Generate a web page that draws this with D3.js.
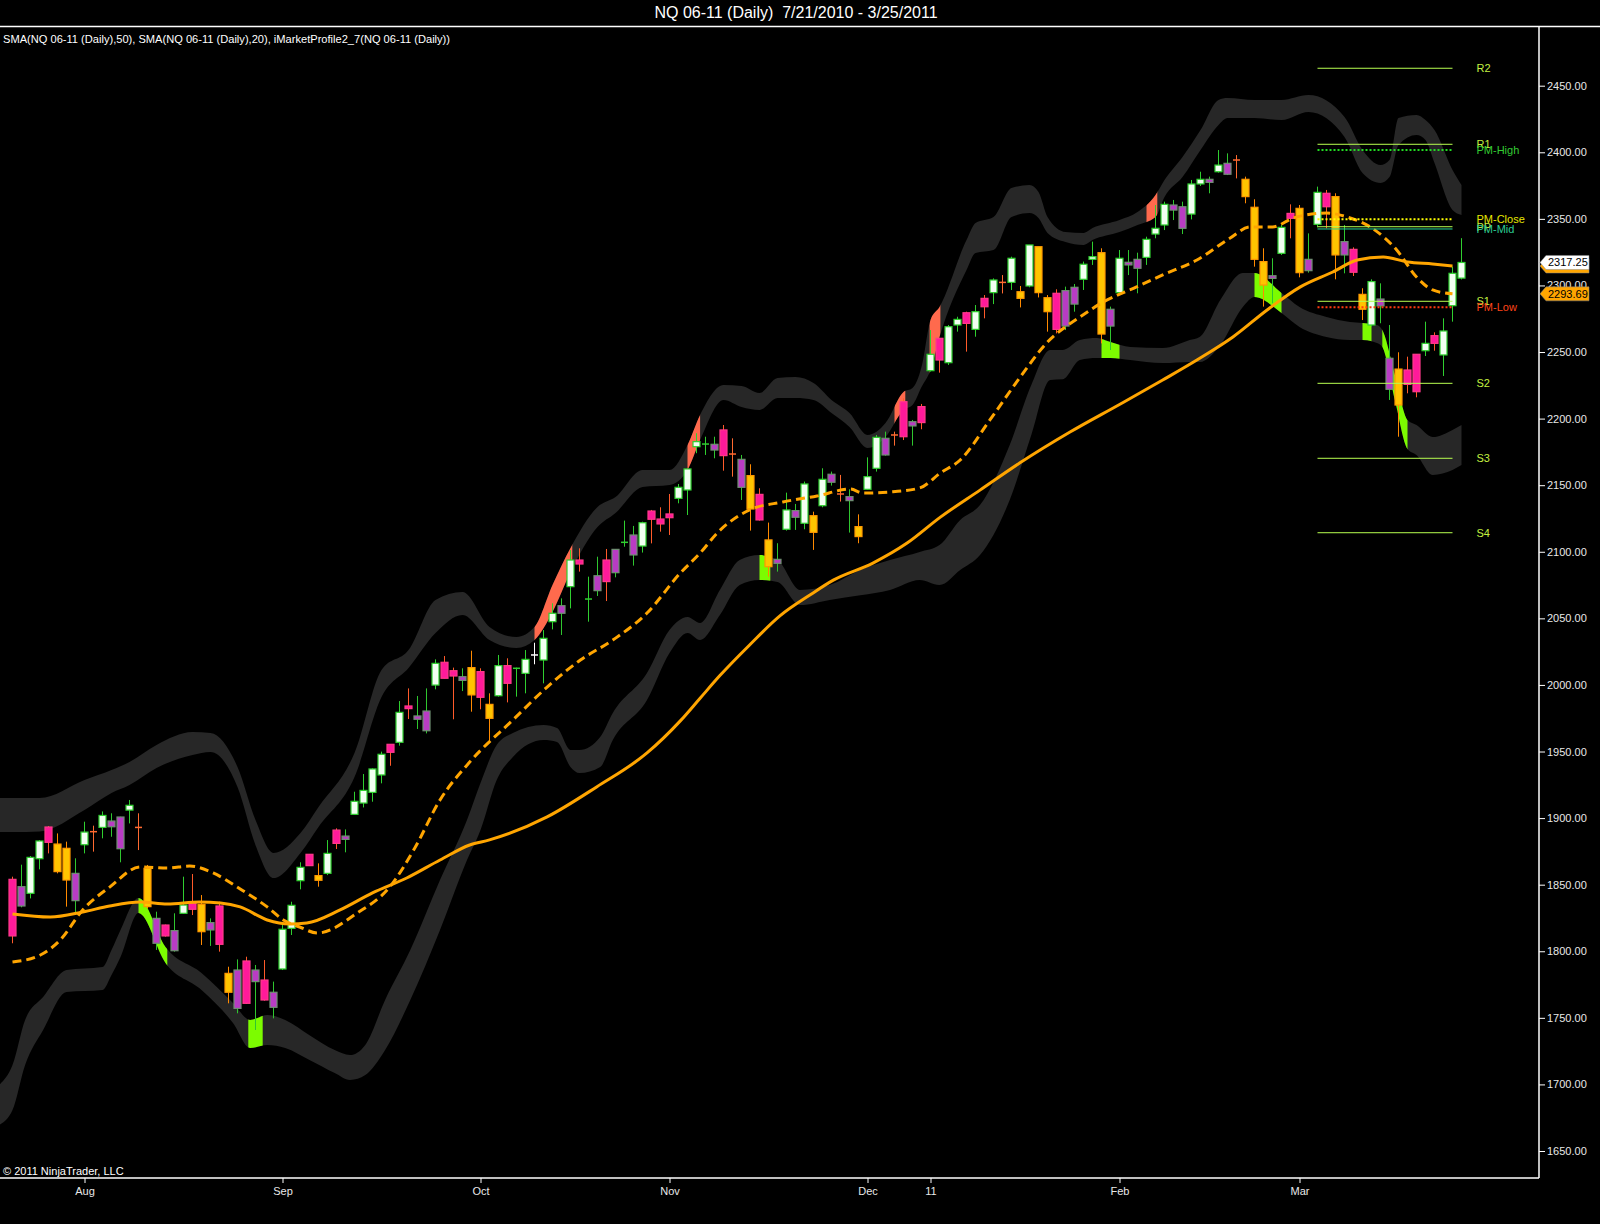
<!DOCTYPE html>
<html><head><meta charset="utf-8">
<script src="https://cdn.jsdelivr.net/npm/d3@7"></script>
<style>
body{margin:0;background:#000;}
svg{display:block;}
text{font-family:"Liberation Sans",Arial,sans-serif;}
</style>
</head><body>
<svg id="c" width="1600" height="1224"></svg>
<script>
// ---------------- DATA ----------------
const title = "NQ 06-11 (Daily)  7/21/2010 - 3/25/2011";
const legendText = "SMA(NQ 06-11 (Daily),50), SMA(NQ 06-11 (Daily),20), iMarketProfile2_7(NQ 06-11 (Daily))";
const copyright = "\u00A9 2011 NinjaTrader, LLC";

const monthIdx = [8, 30, 52, 73, 95, 102, 123, 143];
const monthLabels = ["Aug", "Sep", "Oct", "Nov", "Dec", "11", "Feb", "Mar"];
const priceTicks = d3.range(1650, 2451, 50);

// [open, high, low, close]
const bars = [
[1854,1856,1806,1811.5],[1848.5,1865,1833,1834],[1843.5,1871.5,1839.7,1870.5],[1869.5,1883.5,1861.5,1882.8],
[1893.3,1894,1873.5,1881.8],[1880.5,1888.5,1858.5,1859.8],[1877.3,1882.3,1833.5,1853.5],[1858.5,1869.8,1828.5,1838],
[1880,1897.3,1873.5,1889.5],[1889.8,1894.3,1874.8,1889.8],[1893,1905,1884.8,1902],[1897.8,1903.6,1886,1893.5],
[1900.8,1901,1866.8,1877],[1906,1913.6,1896,1909.6],[1893,1903.6,1876,1893],[1862.3,1864.8,1832,1833.5],
[1824.7,1829.7,1801,1806],[1819.7,1820,1811,1811.5],[1815.5,1828.5,1799.7,1800.4],[1828.5,1856,1828,1834.7],
[1836,1858,1827.2,1831.5],[1835.2,1842.2,1804.7,1814.7],[1821.5,1824.7,1804,1816],[1834,1837.2,1799.7,1805.2],
[1783.4,1788.4,1760.9,1769.2],[1785.9,1793.9,1753.4,1757.1],[1792.7,1795.9,1760.4,1760.9],[1785.9,1789.7,1740.9,1777.2],
[1778.4,1793.4,1762.9,1763.4],[1769.2,1777.2,1749.6,1757.9],[1786.7,1819.7,1785.9,1816.5],[1817.2,1837.2,1812.2,1834.5],
[1853,1866.8,1846.5,1863],[1872.8,1873,1864,1864.3],[1856.8,1866,1848.5,1853.3],[1858.5,1883.5,1857.2,1873.5],
[1891,1892.3,1876.8,1881],[1886.5,1891.5,1874.3,1884],[1902.8,1919.8,1902.8,1912.6],[1911.3,1933.1,1908,1920.8],
[1919.3,1937.4,1912.3,1936.9],[1932.4,1949.9,1926.1,1947.9],[1955.4,1955.4,1939.3,1949.4],[1956.9,1987.9,1954.4,1979.4],
[1984.2,1997.4,1974.4,1982.2],[1976.7,1991.7,1966.9,1974.2],[1980.4,1997.4,1963.6,1965.6],[1999.9,2019.2,1996.7,2016.2],
[2017,2021.7,2004.9,2005],[2010.7,2013,1974.2,2006.7],[2006.2,2012.5,1995.4,2003.4],[2013,2025.7,1979.9,1992.5],
[2010,2012.5,1981.7,1990.7],[1985.4,1993.7,1957.4,1974.9],[1991.9,2022.5,1991.2,2014.5],[2014.5,2020,1986.9,2001.2],
[2012.5,2013,1991.2,2012.5],[2008.7,2026.2,1993.7,2019.2],[2022.5,2031.7,2015.5,2022.5],[2018.7,2041.2,2001.2,2035],
[2047.5,2061.3,2041.7,2053.8],[2059.5,2065,2037.5,2053.8],[2073.8,2101.3,2057.5,2093.8],[2093.8,2102.6,2085.1,2090.8],
[2064.5,2081.3,2047.5,2064.5],[2082,2096.3,2066.8,2070.8],[2093.8,2102.1,2063,2077.6],[2101.8,2102,2080.8,2084.3],
[2107.1,2123.4,2103.8,2107.1],[2112.6,2119.4,2089.6,2097.6],[2104.3,2122.6,2099.4,2121.8],[2130.6,2131.4,2106.3,2124.4],
[2124.6,2133.4,2115.1,2120.9],[2128.4,2143.4,2112.6,2125.6],[2140.1,2150.9,2136.4,2148.4],[2146.4,2162.2,2127.6,2162.2],
[2178.9,2189,2174,2182.7],[2180.9,2186.4,2172.7,2180.9],[2180.7,2186.4,2170.2,2176.4],[2191.5,2195.2,2160.9,2172.2],
[2173.4,2185.2,2156.4,2173.4],[2169.4,2172.7,2138.9,2148.4],[2157.2,2165.7,2115.9,2132.1],[2143.1,2147.7,2123.4,2123.9],
[2108.9,2121.9,2081.3,2088.8],[2094.3,2106.4,2085.1,2091.3],[2116.9,2144.4,2115.9,2131.4],[2130.9,2135.9,2116.4,2125.9],
[2121.4,2152.7,2116.9,2150.9],[2127.1,2130.1,2101.4,2114.6],[2134.6,2162.7,2133.4,2154.4],[2158.2,2160.2,2149.7,2152.2],
[2143.4,2157.7,2137.7,2143.4],[2141.4,2146.9,2114.4,2138.4],[2118.9,2128.1,2106.4,2111.4],[2146.9,2170.9,2146.4,2156.4],
[2162.7,2187.7,2160.2,2185.9],[2185.2,2190.2,2172.2,2172.7],[2187.7,2190.2,2179.7,2187.7],[2212.7,2215.2,2183.9,2186.4],
[2197.7,2199,2179.7,2194.5],[2209,2211,2192,2197],[2236,2266.5,2235.3,2248.3],[2260.3,2260.3,2234.5,2244],
[2242,2270.3,2240.3,2269],[2270.3,2276.5,2265.3,2274.5],[2279.5,2280.3,2250.3,2271.5],[2267,2285.3,2261.5,2280.3],
[2290.3,2292.8,2275.3,2284],[2294.6,2305.3,2286,2304.1],[2302.3,2307.8,2294,2302.3],[2302.3,2321.6,2296.6,2320.4],
[2295.3,2299.6,2283.5,2290.3],[2299.6,2330.4,2298.6,2330.4],[2329.1,2329.1,2291,2294.6],[2290.8,2292.8,2265.3,2280.3],
[2294.1,2297.1,2264,2267],[2296.1,2299.1,2266.5,2269.5],[2298.6,2301.1,2280.3,2286],[2304.6,2317.9,2296.6,2315.9],
[2319.6,2332.9,2315.4,2321.6],[2324.6,2327.9,2256.5,2263.5],[2282.1,2284.1,2251.5,2269.5],[2294.6,2326.6,2294.1,2320.4],
[2317.4,2326.6,2307.8,2315.4],[2319.6,2324.6,2294.1,2312.9],[2321.1,2336.6,2315.4,2334.6],[2338.6,2360.4,2335.4,2342.9],
[2345.4,2362.9,2341.6,2360.9],[2360.4,2364.2,2349.1,2356.6],[2359.1,2362.9,2338.6,2342.9],[2353.6,2379.2,2349.6,2376.2],
[2376.2,2385.4,2374.7,2379.7],[2379.7,2381.7,2369.2,2377.4],[2385.4,2401.7,2384.7,2390.4],[2391.7,2399.2,2382.9,2383.5],
[2394.2,2397.9,2380.4,2394.2],[2379.7,2381.7,2361.7,2366.7],[2358.7,2364.7,2314.1,2319.6],[2317.9,2327.9,2284.1,2300.3],
[2307.3,2320.4,2286.6,2305.3],[2324.1,2345.4,2322.9,2343.6],[2354.1,2360.9,2335.4,2350.4],[2357.9,2360.4,2306.1,2309.6],
[2319.6,2339.1,2309.6,2311.1],[2345.9,2374.2,2343.6,2369.9],[2369.2,2371.7,2342.9,2359.1],[2366.7,2369.2,2304.6,2322.9],
[2332.9,2345.4,2309.1,2322.9],[2327.1,2328.6,2307.1,2309.9],[2293.3,2297.9,2274,2282.1],[2270.3,2304.6,2269.1,2302.9],
[2289.8,2301.6,2271.6,2284.6],[2245.3,2270.3,2214,2222],[2237.2,2249.8,2186.4,2210.2],[2236.5,2246.5,2219,2225.7],
[2248.3,2248.3,2216,2220.2],[2251,2272.8,2247,2256.5],[2262.3,2264.8,2251,2256.5],[2247.8,2275.3,2232,2265.8],
[2284.8,2314.1,2272.8,2309.1],[2305.5,2335.5,2304.5,2317.25]
];
// bar category: u=up, d=down, g=down(inside), o=strong down, x/xg/w = doji
const kinds = [
"d","g","u","u","d","o","o","g","u","x","u","g","g","u","x","o","g","d","g","u",
"d","o","g","d","o","g","d","g","d","g","u","u","u","d","o","u","d","g","u","u",
"u","u","d","u","d","g","g","u","d","d","g","o","d","o","u","d","xg","u","w","u",
"u","g","u","d","xg","g","d","g","xg","g","u","d","d","d","u","u","u","xg","g","d",
"x","g","o","d","o","g","u","g","u","o","u","g","x","g","o","u","u","g","x","d",
"g","d","u","d","u","u","d","u","d","u","x","u","o","u","o","o","d","g","g","u",
"u","o","g","u","g","g","u","u","u","g","g","u","u","g","u","g","x","o","o","o",
"g","u","d","o","g","u","d","o","g","d","o","u","g","g","o","d","d","u","d","u",
"u","u"
];

// upper profile band
const upIdx = [-1.5,0,3,8,11,13,16,20,22,25,27,29,32,34,38,41,44,47,50,53,56,58,60,62,65,67,70,73,75,76.4,79,81,83,85,87,89,91,93,95,97,99,100,101,102,103,106,107,109,111,113,114,115,117,119,120,123,125,127,128,130,132,134,135,138,141,144,148,150,152,153,154,156,157,158,160,161];
const upTop = [1915,1915,1915,1928.6,1936.1,1942.1,1954.9,1964.6,1963.9,1938.4,1898.5,1873.8,1888.8,1908.3,1948.9,2011.2,2026.2,2063.8,2069.8,2043.5,2036,2043.5,2075,2102.8,2133.6,2141.1,2161.4,2161.4,2180.2,2202.7,2225.2,2224.5,2219.2,2230.5,2231.2,2226.7,2214,2204.2,2187.7,2196.7,2220,2223,2238.8,2274.1,2283.8,2334.1,2346.9,2351.4,2373.2,2375.4,2370.2,2351.4,2340.1,2339.4,2343.1,2349.1,2355.1,2367.9,2379.2,2396.5,2416.7,2439.3,2440.8,2439.3,2439.3,2443,2426.5,2401.7,2390.4,2394.2,2425.7,2428,2424.2,2416.7,2386.7,2375.4];
const upBot = [1889.5,1889.5,1890,1906.1,1918.8,1924.8,1937.6,1947.4,1949.6,1923.3,1879.7,1855,1873.8,1893.3,1930.8,1990.9,2012.7,2039,2052.5,2033.7,2027.7,2033.7,2054.8,2084.8,2118.6,2129.1,2148.6,2150.1,2161.4,2183.9,2214,2208.7,2206.5,2215.5,2215.5,2214,2204.2,2193.7,2177.9,2186.2,2206.5,2210.2,2223.7,2236.5,2261.3,2311.6,2324.4,2326.6,2351.4,2354.4,2350.6,2339.4,2332.6,2330.4,2334.1,2340.1,2345.4,2351.4,2366.4,2381.4,2401.7,2420.5,2425.7,2425.7,2424.2,2430.2,2411.5,2384.4,2376.9,2381.4,2405.5,2413,2409.2,2391.9,2356.6,2352.9];

// lower profile band
const loIdx = [-1.5,0,1.4,3.4,6,10,11,12,14,17,21,24.5,26.4,28.3,30.3,33,35.8,37.5,39.2,41.4,44.2,47.5,50.5,52,53.8,55.6,59,60.5,62,63,65.3,66.7,70.5,73,75,76.4,78.6,80.8,83,85,87.5,90.8,94.2,97.5,100.8,103,105.3,107.5,110.8,113.2,115.3,116.7,118.6,120.5,122,124.2,127.8,130.8,131.9,134.2,136.7,138,141,143,146,148.6,150,151.6,152.2,153.6,155,156,157.8,160,161];
const loTop = [1699.5,1714.5,1748.4,1765.6,1785.9,1788.1,1800.9,1816,1840,1803.2,1783.7,1761.1,1748.4,1752.1,1748.4,1737,1725.8,1722,1729.6,1763.4,1800.9,1853.5,1898.5,1926.3,1954.9,1963.9,1969.9,1967.6,1951.1,1951.1,1960.9,1978.9,2008.9,2041.2,2051,2046.5,2071.3,2093.8,2097.5,2093.8,2071.3,2075,2086.3,2093.8,2099.8,2105,2123.9,2135.1,2180.2,2225.2,2251.5,2251.5,2259,2260.5,2257.5,2253.8,2253,2259,2261.3,2289.1,2309.4,2309.4,2294.3,2283.8,2276.3,2272.6,2271.8,2270.3,2266.5,2232.8,2199,2195.2,2186.2,2191.5,2195.2];
const loBot = [1669.5,1680.7,1714.5,1740.8,1769.4,1770.9,1782.1,1795.7,1828.7,1791.2,1770.9,1746.1,1727.3,1729.6,1727.3,1718.3,1708.5,1703.3,1707,1725.8,1763.4,1816,1868.5,1891.1,1928.6,1945.9,1958.6,1957.1,1938.4,1933.8,1938.4,1958.6,1988.7,2023.9,2039,2033.7,2052.5,2075,2078.8,2077.3,2060,2063.8,2067.3,2071.3,2078.8,2075,2086.3,2097.5,2138.9,2187.7,2229,2229.5,2244,2245.5,2245.5,2244,2241.7,2242.5,2242.5,2255.3,2283.8,2291.3,2279.3,2268.8,2261.3,2259,2259,2256.8,2253.8,2214,2177.2,2172.7,2157.7,2161.4,2165.1];

// highlighted stretches of the bands (bar index ranges)
const upperHot = [[58,62.2],[75,76.4],[98,99.2],[101.9,103.1],[126,127.2]];
const lowerHot = [[14,17.2],[26.2,27.8],[83,84.2],[121,123],[138,141],[150,151],[152.2,155]];

// SMA(50) and SMA(20) values read at bar indexes
const s50Idx = [0,4.2,7.8,10.8,14.2,17.2,20.8,23.1,25.3,28.3,30.8,32.7,36.4,40,43.8,47.5,50.8,53,59.4,64.9,70.5,74.2,76.4,78.6,81.9,85.3,88.6,91.2,95.6,99.4,103.1,107.5,111.9,117.5,123.1,127.8,131.6,135.6,139.4,143.1,146.7,149.4,152.3,155,157.8,160];
const s50Val = [1828,1825.7,1829.5,1834,1837,1835.5,1837,1836.3,1833.3,1823.5,1820.5,1821.2,1831,1843.8,1855,1868.5,1879.8,1883.6,1900.9,1923.4,1948.9,1973,1990,2007,2030,2052,2067.5,2078.7,2091.5,2106.5,2126,2146.3,2166.6,2189.9,2211,2229,2244,2261.3,2281.6,2298.9,2310.1,2319.1,2321.4,2317.6,2316.1,2314.6];
const s20Idx = [0,3.1,5.3,7.8,10.8,14.2,17.2,19.7,22.3,25.3,28.3,30.1,31.9,33.9,38.3,41.9,44.7,47.5,50.8,55.6,59.4,63.1,66.7,70.5,74.2,76.4,78.3,81.9,85.6,89.4,93.1,94.5,97.5,100.8,103.1,105.3,108.6,111.9,114.9,118.6,121.2,124.9,127.8,131.6,135.3,137.5,140,142.3,146,148.3,151.2,153.8,156,157.8,160];
const s20Val = [1791.9,1797.2,1808.4,1831,1848.2,1863.3,1862.5,1864,1858.8,1846.8,1833.3,1823.5,1818.2,1813.7,1828.7,1848.2,1877.5,1913.6,1942.1,1973.7,1998.4,2018.7,2033.7,2054,2084,2099,2114.1,2131.4,2137.4,2141.9,2147.1,2144.1,2144.9,2147.9,2159.2,2168.9,2199,2230.5,2256.8,2276.3,2287.6,2298.9,2307.9,2319.1,2335.6,2343.9,2343.9,2350.6,2354.4,2351.4,2342.4,2326.6,2306.4,2296.6,2293.69];

// market profile / pivot levels
const pivotNames = ["R2","R1","PM-High","PM-Close","PP","PM-Mid","S1","PM-Low","S2","S3","S4"];
const pivotValues = [2463.1,2406,2401.7,2349.7,2344.1,2342.4,2288.1,2283.6,2226.5,2170.2,2114.3];
const pivotRange = [145, 160];

const lastClose = 2317.25, lastS50 = 2314.6, lastS20 = 2293.69;

// ---------------- DRAW ----------------
const svg = d3.select("#c");
svg.append("rect").attr("width",1600).attr("height",1224).attr("fill","#000");

const x = d3.scaleLinear().domain([0,161]).range([12.5,1461.5]);
const y = d3.scaleLinear().domain([1650,2450]).range([1151,85.7]);
const frameR = 1539, frameB = 1178, frameT = 26.5;

const defs = svg.append("defs");
defs.append("clipPath").attr("id","plot").append("rect")
  .attr("x",0).attr("y",frameT).attr("width",frameR).attr("height",frameB-frameT);

const plot = svg.append("g").attr("clip-path","url(#plot)");

function bandData(idx, top, bot){ return idx.map((d,i)=>({i:d,t:top[i],b:bot[i]})); }
const area = d3.area().x(d=>x(d.i)).y0(d=>y(d.b)).y1(d=>y(d.t)).curve(d3.curveMonotoneX);
const upData = bandData(upIdx, upTop, upBot);
const loData = bandData(loIdx, loTop, loBot);
const bandColor = "#272727";
plot.append("path").attr("d",area(upData)).attr("fill",bandColor);
plot.append("path").attr("d",area(loData)).attr("fill",bandColor);

function hot(data, ranges, color, tag){
  ranges.forEach((r,k)=>{
    const id = "hot"+tag+k;
    defs.append("clipPath").attr("id",id).append("rect")
      .attr("x",x(r[0])).attr("y",0).attr("width",x(r[1])-x(r[0])).attr("height",1224);
    plot.append("path").attr("d",area(data)).attr("fill",color).attr("clip-path","url(#"+id+")");
  });
}
hot(upData, upperHot, "#ff6a4d", "u");
hot(loData, lowerHot, "#7cfc00", "l");

// candles
const style = {
  u:{fill:"#f2fff2",stroke:"#2fcf2f",wick:"#2fcf2f"},
  d:{fill:"#ff1a9a",stroke:"#ff3a8a",wick:"#ff5a2a"},
  g:{fill:"#b93cc4",stroke:"#6f8f72",wick:"#2fc62f"},
  o:{fill:"#ffc400",stroke:"#ff9800",wick:"#ff8a00"},
  x:{wick:"#ff6a30"}, xg:{wick:"#2fcf2f"}, w:{wick:"#ffffff"}
};
const bw = 7;
const cg = plot.append("g");
bars.forEach((b,i)=>{
  const k = kinds[i], s = style[k], cx = x(i);
  const [o,h,l,c] = b;
  cg.append("line").attr("x1",cx).attr("x2",cx).attr("y1",y(h)).attr("y2",y(l))
    .attr("stroke",s.wick).attr("stroke-width",1);
  if (k==="x"||k==="xg"||k==="w"){
    cg.append("line").attr("x1",cx-3.5).attr("x2",cx+3.5).attr("y1",y(c)).attr("y2",y(c))
      .attr("stroke",s.wick).attr("stroke-width",1.5);
  } else {
    const yt = y(Math.max(o,c)), yb = y(Math.min(o,c));
    cg.append("rect").attr("x",cx-bw/2).attr("y",yt).attr("width",bw).attr("height",Math.max(2,yb-yt))
      .attr("fill",s.fill).attr("stroke",s.stroke).attr("stroke-width",1.2);
  }
});

// SMA lines
const line = d3.line().x(d=>x(d[0])).y(d=>y(d[1])).curve(d3.curveMonotoneX);
plot.append("path").attr("d",line(s50Idx.map((d,i)=>[d,s50Val[i]])))
  .attr("fill","none").attr("stroke","#ffa500").attr("stroke-width",3);
plot.append("path").attr("d",line(s20Idx.map((d,i)=>[d,s20Val[i]])))
  .attr("fill","none").attr("stroke","#ffa500").attr("stroke-width",3).attr("stroke-dasharray","9,5");

// pivots
const pStyle = {
  "R2":{c:"#b8ff50",lc:"#c4f040",dash:null},
  "R1":{c:"#b8ff50",lc:"#c4f040",dash:null},
  "PM-High":{c:"#22dd22",lc:"#33cc33",dash:"2,2"},
  "PM-Close":{c:"#ffff00",lc:"#e6e600",dash:"2,2"},
  "PP":{c:"#b8ff50",lc:"#c4f040",dash:null},
  "PM-Mid":{c:"#22d49a",lc:"#2ccc94",dash:null},
  "S1":{c:"#b8ff50",lc:"#c4f040",dash:null},
  "PM-Low":{c:"#ff3a10",lc:"#ff4418",dash:"2,2"},
  "S2":{c:"#b8ff50",lc:"#c4f040",dash:null},
  "S3":{c:"#b8ff50",lc:"#c4f040",dash:null},
  "S4":{c:"#b8ff50",lc:"#c4f040",dash:null}
};
const pg = svg.append("g");
pivotNames.forEach((n,i)=>{
  const st = pStyle[n], yy = y(pivotValues[i]);
  pg.append("line").attr("x1",x(pivotRange[0])).attr("x2",x(pivotRange[1])).attr("y1",yy).attr("y2",yy)
    .attr("stroke",st.c).attr("stroke-width",st.dash?2:1).attr("stroke-dasharray",st.dash);
});
pivotNames.forEach((n,i)=>{
  const st = pStyle[n], yy = y(pivotValues[i]);
  pg.append("text").attr("x",x(pivotRange[1])+24).attr("y",yy+4).text(n)
    .attr("fill",st.lc).attr("font-size",11);
});

// frame
svg.append("line").attr("x1",0).attr("x2",1600).attr("y1",frameT).attr("y2",frameT).attr("stroke","#fff").attr("stroke-width",1.5);
svg.append("line").attr("x1",frameR).attr("x2",frameR).attr("y1",frameT).attr("y2",frameB).attr("stroke","#fff").attr("stroke-width",1.5);
svg.append("line").attr("x1",0).attr("x2",frameR).attr("y1",frameB).attr("y2",frameB).attr("stroke","#fff").attr("stroke-width",1.5);

// axes
const yAxis = d3.axisRight(y).tickValues(priceTicks).tickFormat(d3.format(".2f")).tickSize(6).tickPadding(2);
const gy = svg.append("g").attr("transform",`translate(${frameR},0)`).call(yAxis);
gy.select(".domain").remove();
gy.selectAll("line").attr("stroke","#fff");
gy.selectAll("text").attr("fill","#e8e8e8").attr("font-size",11).attr("font-family","Liberation Sans, Arial, sans-serif");

const xAxis = d3.axisBottom(x).tickValues(monthIdx).tickFormat((d,i)=>monthLabels[i]).tickSize(5).tickPadding(4);
const gx = svg.append("g").attr("transform",`translate(0,${frameB})`).call(xAxis);
gx.select(".domain").remove();
gx.selectAll("line").attr("stroke","#fff");
gx.selectAll("text").attr("fill","#e8e8e8").attr("font-size",11).attr("font-family","Liberation Sans, Arial, sans-serif");

// price markers
function marker(v, fill, showText){
  const yy = y(v);
  svg.append("path").attr("d",`M${frameR+1},${yy} L${frameR+7},${yy-7} L${frameR+50},${yy-7} L${frameR+50},${yy+7} L${frameR+7},${yy+7} Z`)
    .attr("fill",fill).attr("stroke","#888").attr("stroke-width",0.5);
  if (showText) svg.append("text").attr("x",frameR+9).attr("y",yy+4).text(d3.format(".2f")(v))
    .attr("fill","#000").attr("font-size",11);
}
marker(lastS50, "#ffa500", false);   // hidden behind the close marker
marker(lastS20, "#ffa500", true);
marker(lastClose, "#ffffff", true);

// texts
svg.append("text").attr("x",796).attr("y",18).attr("text-anchor","middle").text(title)
  .attr("fill","#fff").attr("font-size",16).attr("xml:space","preserve").style("white-space","pre");
svg.append("text").attr("x",3).attr("y",43).text(legendText)
  .attr("fill","#fff").attr("font-size",11).attr("textLength",447).attr("lengthAdjust","spacingAndGlyphs");
svg.append("text").attr("x",3).attr("y",1175).text(copyright)
  .attr("fill","#fff").attr("font-size",11);
</script>
</body></html>
